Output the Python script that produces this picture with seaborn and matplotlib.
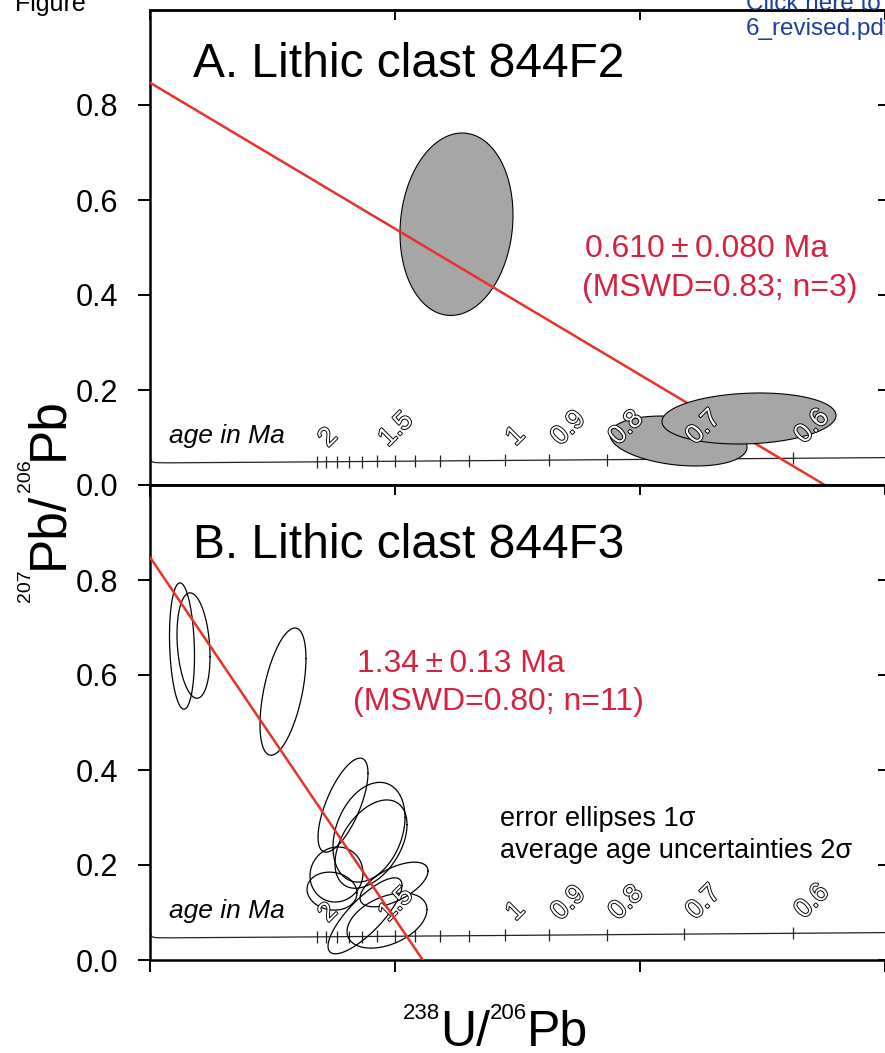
import numpy as np
import pandas as pd
import matplotlib
matplotlib.use("Agg")
import matplotlib.pyplot as plt
import matplotlib.patheffects as pe
from matplotlib.transforms import IdentityTransform
import seaborn as sns

# Decay constants (1/yr) and present-day 238U/235U
LAMBDA_238 = 1.55125e-10
LAMBDA_235 = 9.8485e-10
LAMBDA_230 = 9.1577e-6
U238_U235 = 137.88

# A. Lithic clast 844F2 -- zircon analyses (1 sigma, error correlation)
a_u238_pb206 = [6255, 10786, 12224]
a_u238_pb206_err = [1153, 1398, 1776]
a_pb207_pb206 = [0.549, 0.0926, 0.140]
a_pb207_pb206_err = [0.192, 0.0526, 0.0537]
a_rho = [0.10, -0.25, 0.12]

# B. Lithic clast 844F3 -- zircon analyses (1 sigma, error correlation)
b_u238_pb206 = [653, 888, 2714, 3939, 4469, 4510, 3806, 3714, 4980, 4837, 4388]
b_u238_pb206_err = [255, 337, 469, 510, 735, 735, 541, 510, 694, 816, 755]
b_pb207_pb206 = [0.661, 0.662, 0.565, 0.326, 0.269, 0.244, 0.180, 0.145, 0.159, 0.083, 0.093]
b_pb207_pb206_err = [0.133, 0.111, 0.134, 0.099, 0.105, 0.093, 0.058, 0.040, 0.047, 0.058, 0.080]
b_rho = [-0.16, -0.21, 0.52, 0.68, 0.30, 0.44, 0.05, -0.10, 0.60, 0.40, 0.80]

# Regression results: intercept age (Ma), 2 sigma, MSWD, n, common-Pb 207/206
a_age, a_age_err, a_mswd, a_n, a_common = 0.610, 0.080, 0.83, 3, 0.847
b_age, b_age_err, b_mswd, b_n, b_common = 1.34, 0.13, 0.80, 11, 0.848

# Concordia tick marks and labelled ages (Ma)
concordia_tick_ages = [2.0, 1.9, 1.8, 1.7, 1.6, 1.5, 1.4, 1.3, 1.2, 1.1, 1.0, 0.9, 0.8, 0.7, 0.6]
concordia_label_ages = [2.0, 1.5, 1.0, 0.9, 0.8, 0.7, 0.6]
concordia_labels = ["2", "1.5", "1", "0.9", "0.8", "0.7", "0.6"]
concordia_range_ma = [0.53, 400.0]

y_ticks = [0.0, 0.2, 0.4, 0.6, 0.8]
y_tick_labels = ["0.0", "0.2", "0.4", "0.6", "0.8"]
x_ticks = [0, 5000, 10000, 15000]

RED_LINE = "#e8322b"
RED_TEXT = "#d7223f"
GRAY = "#a6a6a6"
PM = "\u2009\u00b1\u2009"


def concordia(t_ma):
    """Tera-Wasserburg concordia with full initial 230Th deficit."""
    t = np.asarray(t_ma, dtype=float) * 1e6
    r206 = np.expm1(LAMBDA_238 * t) - (LAMBDA_238 / LAMBDA_230) * (1 - np.exp(-LAMBDA_230 * t))
    r207 = np.expm1(LAMBDA_235 * t)
    return 1.0 / r206, r207 / (U238_U235 * r206)


def ellipse(cx, cy, sx, sy, rho, n=240):
    t = np.linspace(0, 2 * np.pi, n)
    x = cx + sx * np.cos(t)
    y = cy + sy * (rho * np.cos(t) + np.sqrt(1 - rho ** 2) * np.sin(t))
    return x, y


sns.set_theme(style="ticks")
plt.rcParams["font.family"] = ["Liberation Sans", "DejaVu Sans"]
plt.rcParams["axes.linewidth"] = 1.8
plt.rcParams["axes.edgecolor"] = "black"

fig = plt.figure(figsize=(8.85, 10.53), dpi=100)
W, H = 885.0, 1053.0
ax_a = fig.add_axes([150 / W, (H - 485) / H, 740 / W, 475 / H])
ax_b = fig.add_axes([150 / W, 93 / H, 740 / W, 475 / H])

x_max = 15000 * 740 / 735


def regression_line(ax, age, common, zorder):
    xc, yc = concordia(age)
    x_int = xc * common / (common - yc)
    line = pd.DataFrame({"x": [0.0, x_int], "y": [common, 0.0]})
    sns.lineplot(data=line, x="x", y="y", ax=ax, sort=False, estimator=None,
                 color=RED_LINE, lw=1.8, zorder=zorder)


for ax in (ax_a, ax_b):
    # concordia curve with age ticks and labels
    cx, cy = concordia(np.geomspace(concordia_range_ma[0], concordia_range_ma[1], 800))
    conc = pd.DataFrame({"x": cx, "y": cy})
    sns.lineplot(data=conc, x="x", y="y", ax=ax, sort=False, estimator=None,
                 color="#222222", lw=0.9, zorder=1.5)
    tx, ty = concordia(concordia_tick_ages)
    ax.plot(tx, ty, linestyle="none", marker="|", markersize=9, markeredgewidth=0.9,
            color="#222222", zorder=1.6)
    lx, ly = concordia(concordia_label_ages)
    for xx, yy, s in zip(lx, ly, concordia_labels):
        ax.annotate(s, xy=(xx, yy), xytext=(11, 14), textcoords="offset pixels",
                    rotation=45, rotation_mode="anchor", ha="left", va="baseline",
                    fontsize=19, color="white", zorder=6,
                    path_effects=[pe.withStroke(linewidth=1.35, foreground="black")])
    ax.text(388, 0.088, "age in Ma", fontsize=19, style="italic", color="black",
            ha="left", va="baseline", zorder=5)


# ---- Panel A ----
for i, (x, sx, y, sy, r) in enumerate(zip(a_u238_pb206, a_u238_pb206_err,
                                          a_pb207_pb206, a_pb207_pb206_err, a_rho)):
    ex, ey = ellipse(x, y, sx, sy, r)
    ax_a.fill(ex, ey, facecolor=GRAY, edgecolor="black", lw=0.8,
              zorder=2 if i == 0 else 4)
regression_line(ax_a, a_age, a_common, zorder=3)
ax_a.text(878, 0.859, "A. Lithic clast 844F2", fontsize=34.5, color="black",
          ha="left", va="baseline")
ax_a.text(8878, 0.480, f"{a_age:.3f}{PM}{a_age_err:.3f} Ma", fontsize=23,
          color=RED_TEXT, ha="left", va="baseline")
ax_a.text(8816, 0.398, f"(MSWD={a_mswd:.2f}; n={a_n})", fontsize=23,
          color=RED_TEXT, ha="left", va="baseline")

# ---- Panel B ----
for x, sx, y, sy, r in zip(b_u238_pb206, b_u238_pb206_err,
                           b_pb207_pb206, b_pb207_pb206_err, b_rho):
    ex, ey = ellipse(x, y, sx, sy, r)
    ax_b.plot(ex, ey, color="black", lw=0.9, zorder=4)
regression_line(ax_b, b_age, b_common, zorder=7)
ax_b.text(878, 0.846, "B. Lithic clast 844F3", fontsize=34.5, color="black",
          ha="left", va="baseline")
ax_b.text(4224, 0.606, f"{b_age:.2f}{PM}{b_age_err:.2f} Ma", fontsize=23,
          color=RED_TEXT, ha="left", va="baseline")
ax_b.text(4143, 0.526, f"(MSWD={b_mswd:.2f}; n={b_n})", fontsize=23,
          color=RED_TEXT, ha="left", va="baseline")
ax_b.text(7143, 0.282, "error ellipses 1\u03c3", fontsize=19.5, color="black",
          ha="left", va="baseline")
ax_b.text(7143, 0.215, "average age uncertainties 2\u03c3", fontsize=19.5,
          color="black", ha="left", va="baseline")

# axes, ticks and spines
for ax in (ax_a, ax_b):
    ax.set_xlim(0, x_max)
    ax.set_ylim(0, 1.0)
    ax.set_xticks(x_ticks)
    ax.set_xticklabels([])
    ax.set_yticks(y_ticks)
    ax.set_yticklabels(y_tick_labels)
    ax.tick_params(axis="y", direction="out", length=8.6, width=1.4, pad=14.4,
                   labelsize=22, colors="black")
    ax.tick_params(axis="x", direction="out", length=8.6, width=1.4, colors="black")
    ax.set_xlabel("")
    ax.set_ylabel("")
    ax.grid(False)
    for sp in ax.spines.values():
        sp.set_visible(True)
        sp.set_color("black")
        sp.set_linewidth(1.8)
    right = ax.secondary_yaxis("right")
    right.set_yticks(y_ticks)
    right.tick_params(direction="in", length=9, width=1.4, labelright=False, colors="black")
    top = ax.secondary_xaxis("top")
    top.set_xticks(x_ticks)
    top.tick_params(direction="in", length=7.5, width=1.4, labeltop=False, colors="black")


# ---- axis titles with isotope superscripts, laid out piece by piece ----
renderer = fig.canvas.get_renderer()


def isotope_label(pieces, x0, y0, vertical):
    pos = y0 if vertical else x0
    for s, size, lift in pieces:
        if vertical:
            t = fig.text(x0 - lift, pos, s, fontsize=size, rotation=90,
                         rotation_mode="anchor", ha="left", va="baseline",
                         color="black", transform=IdentityTransform())
            pos += t.get_window_extent(renderer).height
        else:
            t = fig.text(pos, y0 + lift, s, fontsize=size, ha="left",
                         va="baseline", color="black", transform=IdentityTransform())
            pos += t.get_window_extent(renderer).width


isotope_label([("238", 16, 27), ("U/", 36, 0), ("206", 16, 27), ("Pb", 36, 0)],
              403, H - 1046, vertical=False)
isotope_label([("207", 14, 32), ("Pb/", 37, 0), ("206", 14, 32), ("Pb", 37, 0)],
              62, H - 602, vertical=True)

# page furniture
fig.text(15, H - 11, "Figure", fontsize=18, color="black", ha="left",
         va="baseline", transform=IdentityTransform())
fig.text(746, H - 10, "Click here to access/download;Figure;Figure", fontsize=17.5,
         color="#1f3f9f", ha="left", va="baseline", transform=IdentityTransform())
fig.text(746, H - 35, "6_revised.pdf", fontsize=17.5, color="#1f3f9f", ha="left",
         va="baseline", transform=IdentityTransform())

fig.savefig("out.png", dpi=100, facecolor="white")
